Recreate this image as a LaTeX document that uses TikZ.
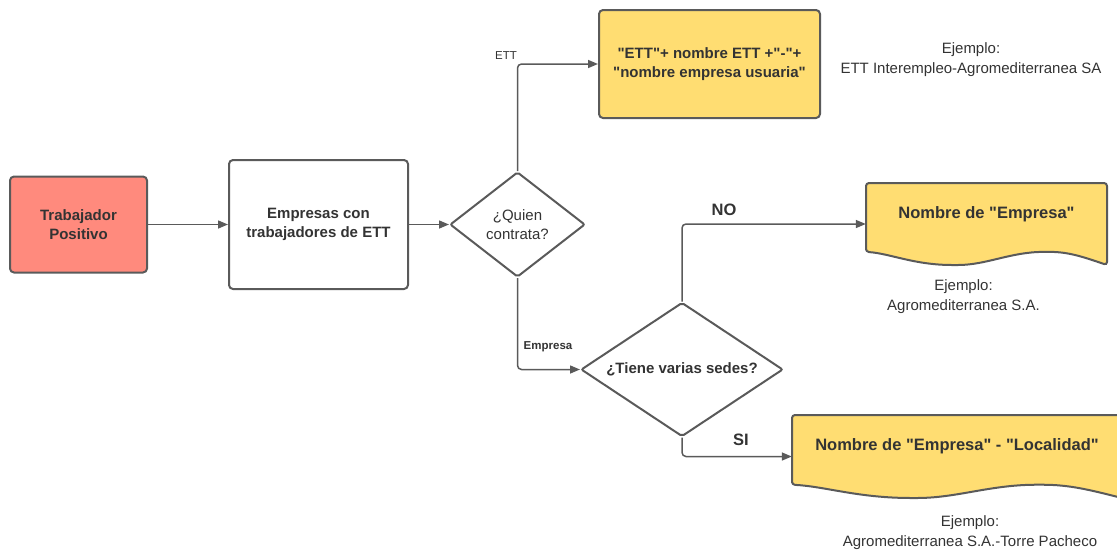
\documentclass[tikz,border=0pt]{standalone}
\usepackage{fontspec}
\setmainfont{Liberation Sans}[Ligatures=TeXOff]
\usetikzlibrary{arrows.meta,shapes.geometric}

\definecolor{edgegray}{HTML}{5A5A5A}
\definecolor{inkgray}{HTML}{333333}
\definecolor{salmon}{HTML}{FF8A7D}
\definecolor{gold}{HTML}{FFDD72}

% straight double quote
\newcommand\dq{\symbol{"22}}

\tikzset{
  box/.style={draw=edgegray, line width=2pt, rounded corners=4pt, inner sep=0pt,
    text=inkgray, align=center, font=\fontsize{15}{19.5}\selectfont\bfseries},
  decision/.style={diamond, draw=edgegray, line width=2pt, inner sep=0pt,
    rounded corners=2pt, text=inkgray, align=center},
  docframe/.style={draw=edgegray, line width=2pt, fill=gold, rounded corners=3pt},
  doctext/.style={text=inkgray, font=\fontsize{16.5}{20}\selectfont\bfseries},
  note/.style={text=inkgray, align=center, font=\fontsize{15}{20}\selectfont},
  flowlabel/.style={text=inkgray, inner sep=0pt},
  flow/.style={draw=edgegray, line width=1.5pt, rounded corners=4pt,
    -{Triangle[length=10pt,width=8pt]}},
}

% Document shape with a wavy lower edge: #1,#2 top-left corner, #3 width, #4 height
\newcommand\wavydoc[4]{%
  \draw[docframe] (#1,#2+0.84*#4) -- (#1,#2) -- (#1+#3,#2) -- (#1+#3,#2+#4)
    .. controls (#1+0.9*#3,#2+0.9*#4) and (#1+0.84*#3,#2+0.84*#4) .. (#1+0.75*#3,#2+0.84*#4)
    .. controls (#1+0.6*#3,#2+0.84*#4) and (#1+0.5*#3,#2+#4) .. (#1+0.37*#3,#2+#4)
    .. controls (#1+0.2*#3,#2+#4) and (#1+0.1*#3,#2+0.86*#4) .. cycle;}

\begin{document}
\begin{tikzpicture}[x=1pt,y=-1pt]
\useasboundingbox (0,0) rectangle (1117,550);

% process boxes
\node[box, fill=salmon, minimum width=137, minimum height=96] (trab) at (78.5,224.5)
  {Trabajador\\Positivo};
\node[box, fill=white, minimum width=179, minimum height=129] (emp) at (318.5,224.5)
  {Empresas con\\trabajadores de ETT};
\node[box, fill=gold, minimum width=221, minimum height=108] (ett) at (709.5,64)
  {\dq ETT\dq+ nombre ETT +\dq-\dq+\\\dq nombre empresa usuaria\dq};

% decisions
\node[decision, aspect=1.3, minimum width=135, minimum height=105,
  font=\fontsize{15}{19.5}\selectfont] (quien) at (517.5,224.5) {¿Quien\\contrata?};
\node[decision, aspect=1.5, minimum width=202, minimum height=134,
  font=\fontsize{15}{19.5}\selectfont\bfseries] (sedes) at (682,369.5) {¿Tiene varias sedes?};

% output documents
\wavydoc{866}{183}{241}{82}
\node[minimum width=241, minimum height=82, inner sep=0pt] (doc1) at (986.5,224) {};
\node[doctext] (doc1txt) at ([yshift=10pt]doc1.center) {Nombre de \dq Empresa\dq};

\wavydoc{792}{415}{330}{83}
\node[minimum width=330, minimum height=83, inner sep=0pt] (doc2) at (957,456.5) {};
\node[doctext] (doc2txt) at ([yshift=10.5pt]doc2.center)
  {Nombre de \dq Empresa\dq{} - \dq Localidad\dq};

% examples
\node[note] (ej1) at (971,60) {Ejemplo:\\ETT Interempleo-Agromediterranea SA};
\node[note] (ej2) at (963.5,297) {Ejemplo:\\Agromediterranea S.A.};
\node[note] (ej3) at (970,532.5) {Ejemplo:\\Agromediterranea S.A.-Torre Pacheco};

% connectors
\draw[flow] (trab.east) -- (emp.west);
\draw[flow] (emp.east) -- (quien.west);
\draw[flow] (quien.north) |- (ett.west);
\draw[flow] (quien.south) |- (sedes.west);
\draw[flow] (sedes.north) |- (doc1.west);
\draw[flow] (sedes.south) |- (doc2.west);

% connector labels
\node[flowlabel, font=\fontsize{11.5}{13}\selectfont] (lbett) at (506,56) {ETT};
\node[flowlabel, font=\fontsize{11.5}{13}\selectfont\bfseries] (lbemp) at (548,347) {Empresa};
\node[flowlabel, font=\fontsize{16.5}{18}\selectfont\bfseries] (lbno) at (724,210) {NO};
\node[flowlabel, font=\fontsize{16.5}{18}\selectfont\bfseries] (lbsi) at (741,440) {SI};
\end{tikzpicture}
\end{document}
